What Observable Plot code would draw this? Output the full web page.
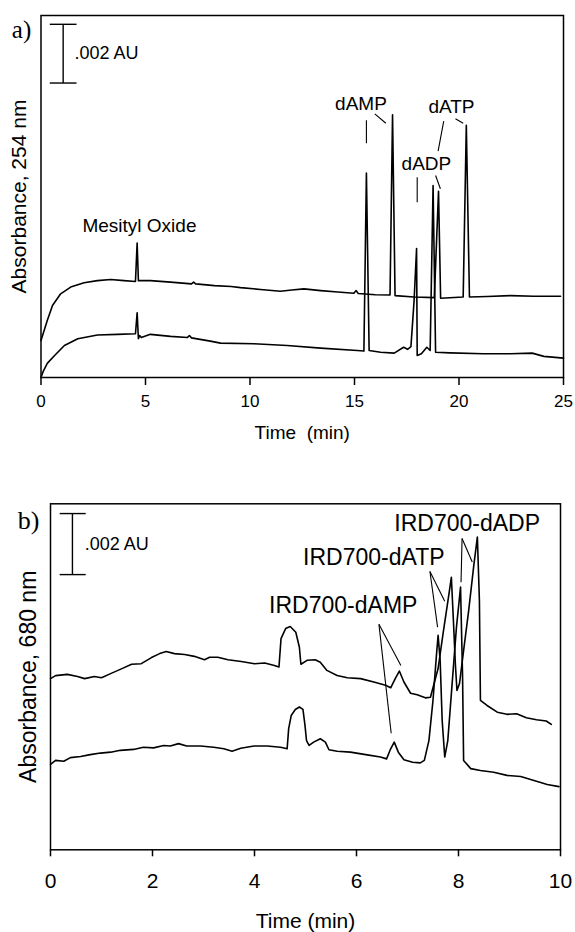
<!DOCTYPE html>
<html><head><meta charset="utf-8">
<script src="https://cdn.jsdelivr.net/npm/d3@7"></script>
<script src="https://cdn.jsdelivr.net/npm/@observablehq/plot@0.6"></script>
<style>
body{margin:0;background:#fff;}
#chart{width:575px;}
#chart svg{display:block;}
</style></head><body><div id="chart"></div>
<script>
// ---------- Panel a: absorbance at 254 nm (mAU, arbitrary offset) ----------
const aTicks = [0, 5, 10, 15, 20, 25];
const aUpperT = [0.0,0.3,0.55,0.94,1.42,2.06,2.7,3.33,3.97,4.52,4.6,4.66,5.23,6.2,7.2,7.3,7.4,8.3,9.1,9.55,10.5,11.46,12.0,12.58,13.38,14.2,14.97,15.08,15.18,16.0,16.7,16.82,16.94,17.85,18.82,19.02,19.12,20.2,20.35,20.5,21.35,22.46,23.58,24.86];
const aUpperV = [1.26,1.94,2.45,2.85,3.08,3.23,3.30,3.34,3.30,3.27,4.58,3.30,3.30,3.25,3.19,3.25,3.19,3.13,3.10,3.06,3.00,2.94,2.98,3.02,2.96,2.91,2.87,2.96,2.86,2.82,2.81,8.95,2.79,2.74,2.72,6.34,2.70,2.74,8.59,2.74,2.76,2.79,2.77,2.77];
const aLowerT = [0.0,0.1,0.3,0.65,1.12,1.76,2.7,3.66,4.52,4.6,4.66,4.72,4.8,5.23,6.2,7.0,7.1,7.2,8.1,8.59,10.18,11.78,13.38,15.13,15.45,15.57,15.7,16.25,16.9,17.35,17.54,17.7,17.85,17.97,18.0,18.2,18.46,18.62,18.76,18.88,19.57,21.16,22.46,23.5,24.06,25.0];
const aLowerV = [0.00,0.20,0.48,0.75,1.09,1.32,1.45,1.47,1.49,2.20,1.32,1.43,1.36,1.47,1.40,1.36,1.43,1.35,1.24,1.17,1.15,1.09,1.00,0.92,0.90,6.96,0.92,0.86,0.83,1.03,0.96,1.05,2.60,4.39,0.75,0.81,1.03,0.92,6.54,0.86,0.84,0.81,0.81,0.83,0.72,0.66];
const aLabels = ["Mesityl Oxide", "dAMP", "dADP", "dATP"];
const aLabelT = [4.71, 15.31, 18.44, 19.64];
const aLabelV = [5.18, 9.33, 7.26, 9.21];
const aPtrT1 = [15.57, 15.97, 18.0, 18.88, 19.27, 19.83];
const aPtrV1 = [8.76, 8.98, 6.82, 6.88, 8.73, 8.81];
const aPtrT2 = [15.57, 16.50, 18.0, 19.11, 19.0, 20.2];
const aPtrV2 = [7.98, 8.66, 5.97, 6.43, 7.71, 8.66];
const aBarT = 1.06, aBarV = [10.03, 12.03], aCapT = [0.42, 1.70], aBarLabelT = 1.6;

// ---------- Panel b: absorbance at 680 nm ----------
const bTicks = [0, 2, 4, 6, 8, 10];
const bUpperT = [0.0,0.1,0.33,0.53,0.67,0.86,1.0,1.2,1.39,1.59,1.78,1.98,2.14,2.27,2.43,2.63,2.82,3.02,3.12,3.28,3.48,3.74,4.0,4.2,4.39,4.48,4.52,4.61,4.7,4.81,4.88,4.91,5.03,5.19,5.29,5.42,5.62,5.82,6.08,6.34,6.57,6.67,6.76,6.84,6.93,7.06,7.19,7.35,7.45,7.6,7.7,7.8,7.86,7.9,7.94,7.97,8.02,8.1,8.2,8.3,8.37,8.41,8.43,8.56,8.76,8.95,9.14,9.33,9.53,9.72,9.82];
const bUpperV = [5.61,5.71,5.75,5.68,5.61,5.68,5.64,5.79,5.93,6.08,6.10,6.30,6.43,6.50,6.43,6.40,6.34,6.23,6.31,6.31,6.23,6.17,6.10,6.12,6.04,5.99,6.92,7.25,7.32,7.13,6.64,6.08,6.21,6.23,6.15,5.88,5.71,5.64,5.61,5.50,5.39,5.31,5.61,5.86,5.50,5.13,5.08,4.98,5.00,5.94,7.12,8.24,8.93,7.52,6.04,5.22,5.45,6.53,7.85,9.32,10.25,8.17,4.90,4.73,4.51,4.44,4.46,4.33,4.26,4.22,4.11];
const bLowerT = [0.0,0.1,0.26,0.39,0.59,0.78,0.98,1.18,1.37,1.63,1.82,2.02,2.22,2.35,2.51,2.67,2.94,3.2,3.4,3.56,3.73,3.99,4.25,4.51,4.64,4.67,4.72,4.8,4.88,4.95,4.99,5.02,5.07,5.16,5.29,5.39,5.46,5.62,5.88,6.21,6.47,6.59,6.67,6.74,6.82,6.93,7.1,7.25,7.33,7.42,7.5,7.57,7.6,7.64,7.68,7.73,7.79,7.87,7.96,8.04,8.08,8.1,8.24,8.43,8.69,8.95,9.22,9.48,9.74,9.97];
const bLowerV = [2.80,2.93,2.90,3.02,3.06,3.12,3.17,3.20,3.26,3.29,3.36,3.34,3.42,3.40,3.48,3.40,3.40,3.36,3.31,3.23,3.33,3.40,3.40,3.36,3.31,3.97,4.40,4.60,4.68,4.60,4.08,3.58,3.42,3.53,3.64,3.53,3.28,3.23,3.20,3.11,3.04,2.98,3.31,3.53,3.20,2.95,2.87,2.85,2.93,3.58,4.90,6.43,7.03,6.21,4.24,3.04,3.58,5.33,7.30,8.61,5.66,2.93,2.66,2.60,2.54,2.44,2.40,2.27,2.14,2.07];
const bLabels = ["IRD700-dADP", "IRD700-dATP", "IRD700-dAMP"];
const bLabelT = [8.17, 6.34, 5.74];
const bLabelV = [10.69, 9.57, 8.01];
const bPtrT1 = [6.44, 6.44, 7.44, 7.44, 8.07, 8.07];
const bPtrV1 = [7.39, 7.39, 9.12, 9.12, 10.20, 10.20];
const bPtrT2 = [6.68, 6.87, 7.59, 7.73, 8.05, 8.27];
const bPtrV2 = [3.82, 6.04, 7.30, 8.15, 8.77, 9.43];
const bBarT = 0.43, bBarV = [9.02, 11.02], bCapT = [0.18, 0.69], bBarLabelT = 0.67;

// ---------- helpers ----------
const FONT = "'Liberation Sans', Arial, Helvetica, sans-serif";
const SERIF = "'Liberation Serif', 'Times New Roman', serif";
const zip = (ts, vs) => ts.map((t, i) => ({t, v: vs[i]}));
const labelRows = (L, T, V) => L.map((s, i) => ({s, t: T[i], v: V[i]}));
const ptrRows = (t1, v1, t2, v2) => t1.map((_, i) => ({t1: t1[i], v1: v1[i], t2: t2[i], v2: v2[i]}));
const barRows = (bt, bv, ct) => [
  {t1: bt, v1: bv[0], t2: bt, v2: bv[1]},
  {t1: ct[0], v1: bv[0], t2: ct[1], v2: bv[0]},
  {t1: ct[0], v1: bv[1], t2: ct[1], v2: bv[1]}
];

function panel(o) {
  return Plot.plot({
    width: 575, height: o.height,
    marginTop: o.mt, marginBottom: o.mb, marginLeft: o.ml, marginRight: o.mr,
    x: {domain: o.xDomain},
    y: {domain: o.yDomain, axis: null},
    style: {fontFamily: FONT, background: "white", overflow: "visible", color: "black"},
    marks: [
      Plot.frame({stroke: "black", strokeWidth: 1.5}),
      Plot.axisX({ticks: o.ticks, tickSize: o.tickSize, tickPadding: o.tickPadding, fontSize: o.tickFont, label: null, strokeWidth: 1.5, fill: "black"}),
      Plot.text([o.xTitle], {text: d => d, frameAnchor: "bottom", dy: o.xTitleDy, fontSize: o.titleFont, lineAnchor: "middle", fill: "black"}),
      Plot.text([o.yTitle], {text: d => d, frameAnchor: "left", rotate: -90, dx: -22, fontSize: o.yTitleFont, textAnchor: "middle", lineAnchor: "middle", fill: "black"}),
      Plot.text([o.tag], {text: d => d, x: () => o.tagT, y: () => o.tagV, fontFamily: SERIF, fontSize: o.tagFont, lineAnchor: "middle", fill: "black"}),
      Plot.link(barRows(o.barT, o.barV, o.capT), {x1: "t1", y1: "v1", x2: "t2", y2: "v2", stroke: "black", strokeWidth: 1.4}),
      Plot.text([".002 AU"], {text: d => d, x: () => o.barLabelT, y: () => (o.barV[0] + o.barV[1]) / 2, textAnchor: "start", lineAnchor: "middle", fontSize: 18, fill: "black"}),
      Plot.line(o.upper, {x: "t", y: "v", stroke: "black", strokeWidth: 1.6}),
      Plot.line(o.lower, {x: "t", y: "v", stroke: "black", strokeWidth: 1.6}),
      Plot.link(o.ptrs, {x1: "t1", y1: "v1", x2: "t2", y2: "v2", stroke: "black", strokeWidth: 1.1}),
      Plot.text(o.labels, {x: "t", y: "v", text: "s", fontSize: o.labelFont, lineAnchor: "middle", fill: "black"})
    ]
  });
}

const plotA = panel({
  height: 460, mt: 15, mb: 83, ml: 40.5, mr: 12,
  xDomain: [0, 25], yDomain: [0, 12.33], ticks: aTicks,
  tickSize: 8, tickPadding: 9.7, tickFont: 17,
  xTitle: "Time\u00a0 (min)", xTitleDy: 55, titleFont: 19,
  yTitle: "Absorbance, 254 nm", yTitleFont: 21,
  tag: "a)", tagT: -0.93, tagV: 11.82, tagFont: 25,
  barT: aBarT, barV: aBarV, capT: aCapT, barLabelT: aBarLabelT,
  upper: zip(aUpperT, aUpperV), lower: zip(aLowerT, aLowerV),
  ptrs: ptrRows(aPtrT1, aPtrV1, aPtrT2, aPtrV2),
  labels: labelRows(aLabels, aLabelT, aLabelV), labelFont: 19
});

const plotB = panel({
  height: 472, mt: 43.3, mb: 82.7, ml: 50, mr: 15,
  xDomain: [0, 10], yDomain: [0, 11.34], ticks: bTicks,
  tickSize: 7, tickPadding: 16, tickFont: 21,
  xTitle: "Time (min)", xTitleDy: 71, titleFont: 21,
  yTitle: "Absorbance, 680 nm", yTitleFont: 23,
  tag: "b)", tagT: -0.43, tagV: 10.8, tagFont: 26,
  barT: bBarT, barV: bBarV, capT: bCapT, barLabelT: bBarLabelT,
  upper: zip(bUpperT, bUpperV), lower: zip(bLowerT, bLowerV),
  ptrs: ptrRows(bPtrT1, bPtrV1, bPtrT2, bPtrV2),
  labels: labelRows(bLabels, bLabelT, bLabelV), labelFont: 23
});

document.getElementById("chart").append(plotA, plotB);
</script></body></html>
